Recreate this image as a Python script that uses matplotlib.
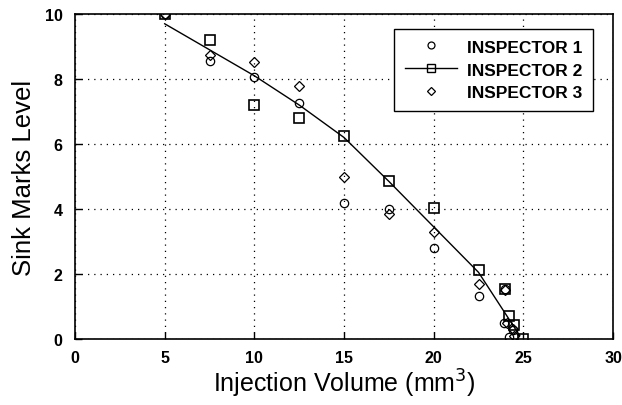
import numpy as np
import matplotlib.pyplot as plt

plt.rcParams['font.family'] = ['Liberation Sans', 'DejaVu Sans']

# inspector readings
x1 = [5, 7.5, 10, 12.5, 15, 17.5, 20, 22.5, 24, 23.9, 24.4, 24.2]
y1 = [10, 8.55, 8.05, 7.25, 4.18, 4.0, 2.8, 1.33, 1.55, 0.5, 0.28, 0.05]

x2 = [5, 7.5, 10, 12.5, 15, 17.5, 20, 22.5, 24, 24.2, 24.5, 25]
y2 = [10, 9.2, 7.2, 6.8, 6.25, 4.87, 4.03, 2.13, 1.55, 0.7, 0.42, 0.0]

x3 = [5, 7.5, 10, 12.5, 15, 17.5, 20, 22.5, 24, 24.1, 24.4, 24.5]
y3 = [10, 8.75, 8.53, 7.8, 5.0, 3.85, 3.28, 1.68, 1.5, 0.5, 0.3, 0.1]

# fitted curve
fit_x = [5, 7.5, 10, 12.5, 15, 17.5, 20, 22.5, 24.8]
fit_y = [9.7, 8.9, 8.1, 7.2, 6.2, 4.85, 3.45, 2.05, 0.1]

fig = plt.figure(figsize=(6.22, 4.06), dpi=100)
ax = fig.add_axes([0.1206, 0.1626, 0.865, 0.8004])

ax.plot(x1, y1, 'o', mfc='none', mec='black', ms=6, mew=0.9, linestyle='none')
ax.plot(fit_x, fit_y, '-', color='black', lw=1.0)
ax.plot(x2, y2, 's', mfc='none', mec='black', ms=7, mew=1.2, linestyle='none')
ax.plot(x3, y3, 'D', mfc='none', mec='black', ms=5, mew=0.9, linestyle='none')

# legend proxies
h1, = ax.plot([], [], 'o', mfc='none', mec='black', ms=5, mew=0.9, linestyle='none')
h2, = ax.plot([], [], 's-', mfc='none', mec='black', color='black', ms=6, mew=1.0, lw=1.0)
h3, = ax.plot([], [], 'D', mfc='none', mec='black', ms=4, mew=0.9, linestyle='none')
leg = ax.legend([h1, h2, h3], ['INSPECTOR 1', 'INSPECTOR 2', 'INSPECTOR 3'],
                loc='upper right', bbox_to_anchor=(0.963, 0.954), borderaxespad=0,
                fancybox=False, framealpha=1, edgecolor='black', fontsize=12.5,
                handlelength=3.0, labelspacing=0.45, borderpad=0.6, handletextpad=0.6)
leg.get_frame().set_linewidth(1.0)
for t in leg.get_texts():
    t.set_fontweight('bold')

ax.set_xlim(0, 30)
ax.set_ylim(0, 10)
ax.set_xticks(np.arange(0, 31, 5))
ax.set_yticks(np.arange(0, 11, 2))
ax.grid(True, color='black', linestyle=(0, (1, 4)), linewidth=0.9)
ax.tick_params(direction='in', length=5, width=1, labelsize=11.5)
ax.tick_params(axis='x', pad=8)
ax.tick_params(axis='y', pad=9)
for lab in ax.get_xticklabels() + ax.get_yticklabels():
    lab.set_fontweight('bold')
for s in ax.spines.values():
    s.set_linewidth(1.2)

ax.set_xlabel('Injection Volume (mm$^3$)', fontsize=18, labelpad=1)
ax.set_ylabel('Sink Marks Level', fontsize=18.5, labelpad=6)

fig.savefig('out.png', dpi=100)
